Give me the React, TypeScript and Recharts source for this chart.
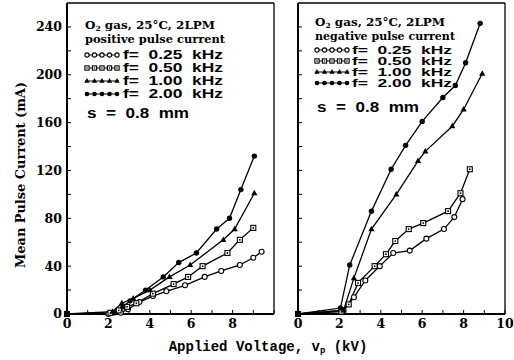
import React from "react"
import { LineChart, Line, XAxis, YAxis } from "recharts"

// voltage (kV) / mean pulse current (mA)
const posV025 = [0, 2.0, 2.6, 2.95, 3.5, 4.15, 4.8, 5.7, 6.65, 7.45, 8.35, 9.0, 9.4]
const posI025 = [0, 0, 1, 4, 10, 15, 19, 24, 31, 36, 41, 47, 52]
const posV050 = [0, 2.1, 2.5, 2.9, 3.35, 4.15, 5.15, 5.85, 6.55, 7.75, 8.35, 9.0]
const posI050 = [0, 1, 3, 6, 9, 17, 25, 31, 40, 51, 62, 72]
const posV100 = [0, 2.2, 2.65, 3.2, 4.0, 4.95, 5.95, 7.55, 8.1, 9.05]
const posI100 = [0, 2, 9, 13, 20, 31, 41, 62, 71, 101]
const posV200 = [0, 2.3, 2.7, 3.05, 3.8, 4.65, 5.4, 6.25, 7.23, 7.85, 8.4, 9.05]
const posI200 = [0, 1, 6, 11, 20, 31, 43, 51, 71, 80, 104, 132]

const negV025 = [0, 2.2, 2.7, 3.25, 3.95, 4.6, 5.4, 6.2, 7.05, 7.55, 7.95]
const negI025 = [0, 3, 14, 28, 40, 51, 53, 63, 71, 81, 96]
const negV050 = [0, 2.1, 2.45, 2.9, 3.7, 4.25, 4.7, 5.35, 6.05, 7.25, 7.85, 8.3]
const negI050 = [0, 2, 8, 26, 40, 50, 61, 71, 76, 86, 101, 121]
const negV100 = [0, 2.2, 2.7, 3.55, 4.75, 5.8, 6.15, 7.45, 8.0, 8.9]
const negI100 = [0, 3, 30, 71, 100, 128, 136, 157, 171, 201]
const negV200 = [0, 2.05, 2.5, 3.55, 4.5, 5.2, 6.0, 7.0, 7.6, 8.1, 8.8]
const negI200 = [0, 5, 41, 86, 121, 141, 161, 181, 191, 210, 243]

const freqLabels = ["0.25", "0.50", "1.00", "2.00"]
const markerKinds = ["circle", "square", "triangle", "dot"]

const xTicks = [0, 1, 2, 3, 4, 5, 6, 7, 8, 9, 10]
const leftXLabels = [0, 2, 4, 6, 8]
const rightXLabels = [0, 2, 4, 6, 8, 10]
const yTicks = [0, 20, 40, 60, 80, 100, 120, 140, 160, 180, 200, 220, 240]
const yLabels = [0, 40, 80, 120, 160, 200, 240]

const toPts = (v: number[], i: number[]) => v.map((x, k) => ({ v: x, i: i[k] }))

const positive = [
  toPts(posV025, posI025),
  toPts(posV050, posI050),
  toPts(posV100, posI100),
  toPts(posV200, posI200),
]
const negative = [
  toPts(negV025, negI025),
  toPts(negV050, negI050),
  toPts(negV100, negI100),
  toPts(negV200, negI200),
]

const serif = "'DejaVu Serif', serif"
const sans = "'Liberation Sans', Arial, sans-serif"

function Marker({ kind, x, y, s = 1 }: { kind: string; x: number; y: number; s?: number }) {
  if (x == null || y == null) return <g />
  switch (kind) {
    case "circle":
      return <circle cx={x} cy={y} r={2.5 * s} fill="#fff" stroke="#000" strokeWidth={1.1} />
    case "square":
      return (
        <g>
          <rect x={x - 2.5 * s} y={y - 2.5 * s} width={5 * s} height={5 * s} fill="#fff" stroke="#000" strokeWidth={1.1} />
          <circle cx={x} cy={y} r={0.9 * s} fill="#000" />
        </g>
      )
    case "triangle":
      return <path d={`M${x},${y - 3.4 * s}L${x + 3.1 * s},${y + 2.1 * s}L${x - 3.1 * s},${y + 2.1 * s}Z`} fill="#000" />
    default:
      return <circle cx={x} cy={y} r={2.7 * s} fill="#000" />
  }
}

interface PanelProps {
  series: { v: number; i: number }[][]
  left: number
  width: number
  yWidth: number
  marginRight: number
  showYLabels: boolean
  xLabels: number[]
}

function Panel({ series, left, width, yWidth, marginRight, showYLabels, xLabels }: PanelProps) {
  const tickFont = { fill: "#000", fontSize: 12.5, fontFamily: serif, fontWeight: 700 }
  return (
    <div style={{ position: "absolute", left, top: 0 }}>
      <LineChart width={width} height={360} margin={{ top: 2, right: marginRight, bottom: 16, left: 0 }}>
        <XAxis
          dataKey="v"
          type="number"
          domain={[0, 10]}
          ticks={xTicks}
          interval={0}
          height={30}
          tickSize={-4}
          tickMargin={9}
          axisLine={{ stroke: "#000", strokeWidth: 2 }}
          tickLine={{ stroke: "#000", strokeWidth: 1 }}
          tick={tickFont}
          tickFormatter={(t: number) => (xLabels.includes(t) ? String(t) : "")}
        />
        <XAxis
          xAxisId="top"
          orientation="top"
          type="number"
          domain={[0, 10]}
          height={1}
          tick={false}
          tickLine={false}
          axisLine={{ stroke: "#000", strokeWidth: 1.3 }}
        />
        <YAxis
          type="number"
          domain={[0, 260]}
          ticks={yTicks}
          interval={0}
          width={yWidth}
          tickSize={-4}
          tickMargin={9}
          axisLine={{ stroke: "#000", strokeWidth: 2 }}
          tickLine={{ stroke: "#000", strokeWidth: 1 }}
          tick={tickFont}
          tickFormatter={(t: number) => (showYLabels && yLabels.includes(t) ? String(t) : "")}
        />
        <YAxis
          yAxisId="right"
          orientation="right"
          type="number"
          domain={[0, 260]}
          ticks={yTicks}
          interval={0}
          width={4}
          tickSize={-4}
          axisLine={{ stroke: "#000", strokeWidth: 1.3 }}
          tickLine={{ stroke: "#000", strokeWidth: 1 }}
          tickFormatter={() => ""}
        />
        {series.map((data, k) => (
          <Line
            key={freqLabels[k]}
            data={data}
            dataKey="i"
            type="linear"
            stroke="#000"
            strokeWidth={1.3}
            isAnimationActive={false}
            dot={(p: any) => (
              <g key={`${k}-${p.index}`}>
                <Marker kind={markerKinds[k]} x={p.cx} y={p.cy} />
              </g>
            )}
          />
        ))}
      </LineChart>
    </div>
  )
}

function LegendBlock({
  x,
  textX,
  titleY,
  subY,
  rowYs,
  sY,
  subtitle,
  rowFont,
}: {
  x: number
  textX: number
  titleY: number
  subY: number
  rowYs: number[]
  sY: number
  subtitle: string
  rowFont: number
}) {
  return (
    <g>
      <text x={x} y={titleY + 4} fontFamily={serif} fontWeight={700} fontSize={11} textLength={130} lengthAdjust="spacingAndGlyphs">
        O<tspan fontSize={7} dy={2}>2</tspan>
        <tspan dy={-2}> gas, 25°C, 2LPM</tspan>
      </text>
      <text x={x} y={subY + 4} fontFamily={serif} fontWeight={700} fontSize={10.5} textLength={140} lengthAdjust="spacingAndGlyphs">
        {subtitle}
      </text>
      {rowYs.map((ry, k) => (
        <g key={freqLabels[k]}>
          <line x1={x} x2={x + 34} y1={ry} y2={ry} stroke="#000" strokeWidth={1.2} />
          {[0, 1, 2, 3, 4].map((m) => (
            <Marker key={m} kind={markerKinds[k]} x={x + 2 + m * 7.5} y={ry} s={0.85} />
          ))}
          <text
            x={textX}
            y={ry + rowFont * 0.36}
            fontFamily={sans}
            fontWeight={700}
            fontSize={rowFont}
            textLength={100}
            lengthAdjust="spacingAndGlyphs"
            style={{ whiteSpace: "pre" }}
          >
            {`f=  ${freqLabels[k]}  kHz`}
          </text>
        </g>
      ))}
      <text
        x={x + 2}
        y={sY + 5}
        fontFamily={sans}
        fontWeight={700}
        fontSize={14}
        textLength={102}
        lengthAdjust="spacingAndGlyphs"
        style={{ whiteSpace: "pre" }}
      >
        {"s  =  0.8  mm"}
      </text>
    </g>
  )
}

export default function App() {
  return (
    <div style={{ position: "absolute", left: 0, top: 0, width: 514, height: 360, background: "#fff", overflow: "hidden" }}>
      <Panel series={positive} left={0} width={290} yWidth={67} marginRight={12} showYLabels xLabels={leftXLabels} />
      <Panel series={negative} left={290} width={224} yWidth={8} marginRight={5} showYLabels={false} xLabels={rightXLabels} />
      <svg width={514} height={360} style={{ position: "absolute", left: 0, top: 0, pointerEvents: "none" }}>
        <LegendBlock x={85} textX={123} titleY={25} subY={39} rowYs={[55, 68, 81, 94]} sY={113} subtitle="positive pulse current" rowFont={12} />
        <LegendBlock x={315} textX={352} titleY={22} subY={36} rowYs={[50, 61, 72, 83]} sY={107} subtitle="negative pulse current" rowFont={10.5} />
        <text
          transform="translate(25,175) rotate(-90)"
          textAnchor="middle"
          fontFamily={serif}
          fontWeight={700}
          fontSize={13}
          textLength={186}
          lengthAdjust="spacingAndGlyphs"
        >
          Mean Pulse Current (mA)
        </text>
        <text x={268} y={351} textAnchor="middle" fontFamily="'Liberation Mono', monospace" fontWeight={700} fontSize={14}>
          Applied Voltage, v<tspan fontSize={9} dy={2}>p</tspan>
          <tspan dy={-2}> (kV)</tspan>
        </text>
      </svg>
    </div>
  )
}
